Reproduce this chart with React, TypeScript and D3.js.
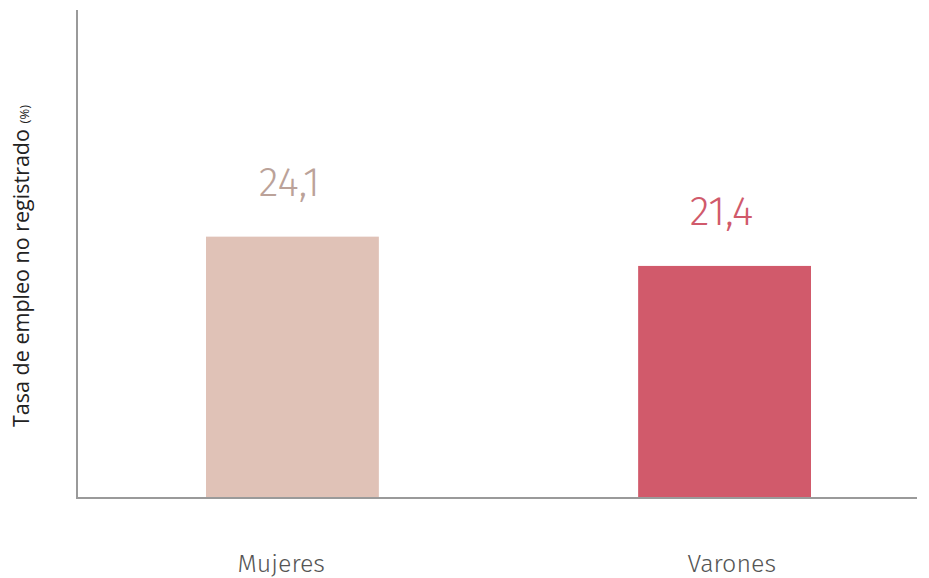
import React from "react";
import * as d3 from "d3";

const categories = ["Mujeres", "Varones"];
const values = [24.1, 21.4];
const valueLabels = ["24,1", "21,4"];
const barColors = ["#e0c2b7", "#d15a6b"];
const labelColors = ["#bba299", "#d05a6b"];
const yTitle = "Tasa de empleo no registrado";
const yTitleUnit = "(%)";

const W = 929;
const H = 578;
const FONT = "'Fira Sans', 'Open Sans', 'Noto Sans', sans-serif";
const TITLE_FONT = "'Open Sans', 'Noto Sans', sans-serif";

export default function App() {
  const x = d3.scaleBand<string>().domain(categories).range([206, 811]).paddingInner(0.6).paddingOuter(0);
  const xLabel = d3.scaleBand<string>().domain(categories).range([56, 957]).padding(0);
  const y = d3.scaleLinear().domain([0, 45]).range([498, 10]);
  const bw = x.bandwidth();
  return (
    <svg width={W} height={H} style={{ position: "absolute", left: 0, top: 0 }}>
      <rect width={W} height={H} fill="#fff" />
      {categories.map((c, i) => (
        <g key={c}>
          <rect x={x(c)} y={y(values[i])} width={bw} height={y(0) - y(values[i])} fill={barColors[i]} />
          <text x={(x(c) as number) + bw / 2 - 3} y={y(values[i]) - 41} textAnchor="middle" fontFamily={FONT} fontWeight={300} fontSize={41} fill={labelColors[i]}>
            {valueLabels[i]}
          </text>
          <text x={(xLabel(c) as number) + xLabel.bandwidth() / 2} y={572} textAnchor="middle" fontFamily={FONT} fontWeight={300} fontSize={25} fill="#555">
            {c}
          </text>
        </g>
      ))}
      <line x1={77} x2={77} y1={y(45)} y2={y(0) + 1} stroke="#9a9a9a" strokeWidth={2} />
      <line x1={76} x2={917} y1={y(0)} y2={y(0)} stroke="#9a9a9a" strokeWidth={2} />
      <text transform={`translate(29,${266}) rotate(-90)`} textAnchor="middle" fontFamily={TITLE_FONT} fontSize={21.5} fill="#222">
        {yTitle} <tspan fontSize={13}>{yTitleUnit}</tspan>
      </text>
    </svg>
  );
}
